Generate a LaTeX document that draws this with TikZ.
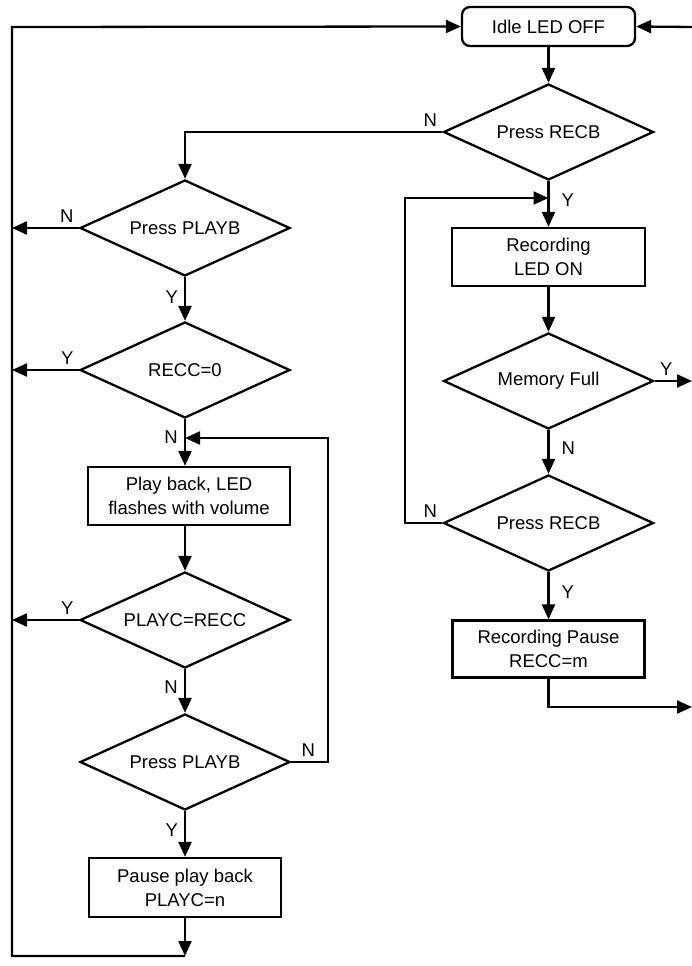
\documentclass[tikz,border=0pt]{standalone}
\usepackage{fontspec}
\setmainfont{Liberation Sans}
\usetikzlibrary{shapes,arrows,arrows.meta,positioning,calc}

\tikzset{
  flow/.style={line width=2.3pt, -{Triangle[length=15pt,width=13pt]}},
  procbox/.style={draw, line width=2.3pt, minimum height=58pt, align=center,
    inner sep=0pt, font=\fontsize{18.5}{24}\selectfont},
  idlebox/.style={draw, line width=2.3pt, rounded corners=8pt, inner sep=0pt,
    font=\fontsize{18.5}{24}\selectfont},
  decision/.style={draw, diamond, aspect=2.2, line width=2.3pt, minimum width=210pt,
    minimum height=96pt, inner sep=0pt, font=\fontsize{18.5}{24}\selectfont},
  lbl/.style={inner sep=0pt, font=\fontsize{18.5}{24}\selectfont}
}

\begin{document}
\begin{tikzpicture}[x=1pt,y=-1pt]
\useasboundingbox (0,0) rectangle (692,966);

% recording side
\node[idlebox, minimum width=173pt, minimum height=39pt] (idle) at (548.5,26.5) {Idle LED OFF};
\node[decision] (recb) at (548.5,132) {Press RECB};
\node[procbox, minimum width=193pt] (rec) at (548.5,257) {Recording\\LED ON};
\node[decision] (full) at (548.5,381) {Memory Full};
\node[decision] (recb2) at (548.5,523) {Press RECB};
\node[procbox, minimum width=192pt, minimum height=57pt] (rpause) at (548.5,649) {Recording Pause\\RECC=m};

% playback side
\node[decision] (playb) at (185,228) {Press PLAYB};
\node[decision] (recc) at (185,370) {RECC=0};
\node[procbox, minimum width=202pt] (play) at (189,496) {Play back, LED\\flashes with volume};
\node[decision] (playc) at (185,620) {PLAYC=RECC};
\node[decision] (playb2) at (185,762) {Press PLAYB};
\node[procbox, minimum width=192pt, minimum height=59pt] (pause) at (185,887.5) {Pause play back\\PLAYC=n};

% corners and joins
\coordinate (tl) at (12,27);
\coordinate (bl) at (12,956);
\coordinate (br) at (185,956);
\coordinate (joinL) at (185,438);
\coordinate (joinR) at (548.5,198);
\coordinate (loopL) at (328,438);
\coordinate (loopR) at (405,198);
\coordinate (outFull) at (692,381);
\coordinate (outPause) at (692,707);
\coordinate (inIdle) at (692,27);

\draw[flow] (inIdle) -- (idle.east);
\draw[flow] (idle) -- (recb);
\draw[flow] (recb.west) node[lbl, above left=6pt] {N} -| (playb.north);
\draw[flow] (recb.south) -- node[lbl, pos=0.42, right=12pt] {Y} (rec.north);
\draw[flow] (rec) -- (full);
\draw[flow] (full.east) node[lbl, above right=6pt] {Y} -- (outFull);
\draw[flow] (full.south) -- node[lbl, pos=0.42, right=12pt] {N} (recb2.north);
\draw[flow] (recb2.west) node[lbl, above left=6pt] {N} -| (loopR) -- (joinR);
\draw[flow] (recb2.south) -- node[lbl, pos=0.42, right=12pt] {Y} (rpause.north);
\draw[flow] (rpause.south) |- (outPause);

\draw[flow] (playb.west) node[lbl, above left=6pt] {N} -- (playb.west -| tl);
\draw[flow] (playb.south) -- node[lbl, pos=0.45, left=6pt] {Y} (recc.north);
\draw[flow] (recc.west) node[lbl, above left=6pt] {Y} -- (recc.west -| tl);
\draw[flow] (recc.south) -- node[lbl, pos=0.39, left=6pt] {N} (recc.south |- play.north);
\draw[flow] (recc.south |- play.south) -- (playc.north);
\draw[flow] (playc.west) node[lbl, above left=6pt] {Y} -- (playc.west -| tl);
\draw[flow] (playc.south) -- node[lbl, pos=0.42, left=6pt] {N} (playb2.north);
\draw[flow] (playb2.east) node[lbl, above right=6pt, xshift=5pt] {N} -| (loopL) -- (joinL);
\draw[flow] (playb2.south) -- node[lbl, pos=0.42, left=6pt] {Y} (pause.north);
\draw[flow] (pause.south) -- (br);
\draw[flow] (br) -- (bl) -- (tl) -- (idle.west);

\end{tikzpicture}
\end{document}
